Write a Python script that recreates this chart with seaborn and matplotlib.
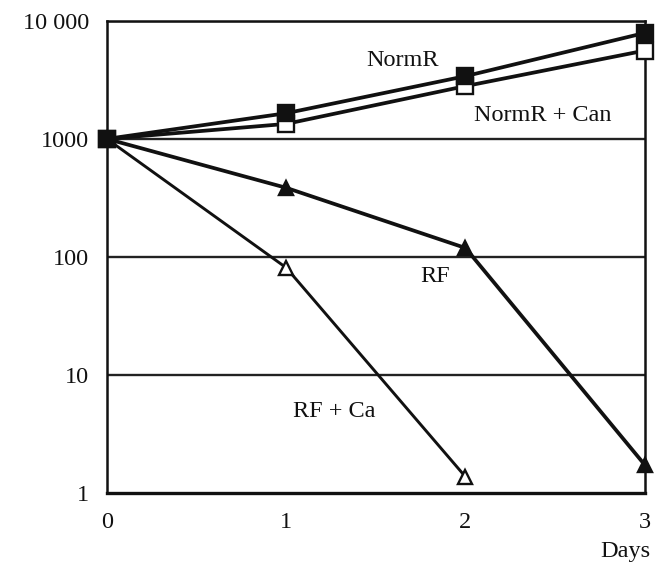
import numpy as np
import pandas as pd
import matplotlib
matplotlib.use("Agg")
import matplotlib.pyplot as plt
import seaborn as sns
from matplotlib.ticker import FixedLocator, NullLocator

# data
days = [0, 1, 2, 3]
normr = [1000, 1650, 3400, 7900]
normr_can = [1000, 1340, 2800, 5600]
rf = [1000, 385, 119, 1.73]
rf_ca_days = [0, 1, 2]
rf_ca = [1000, 81, 1.37]

y_ticks = [1, 10, 100, 1000, 10000]
y_labels = ["1", "10", "100", "1000", "10 000"]
x_ticks = [0, 1, 2, 3]

sns.set_theme(style="white")
plt.rcParams['font.family'] = ['Liberation Serif', 'DejaVu Serif']

fig = plt.figure(figsize=(6.64, 5.64), dpi=100)
ax = fig.add_axes([0.161, 0.126, 0.810, 0.837])

# horizontal grid lines
for yv in y_ticks[1:]:
    ax.axhline(yv, color="#222222", lw=1.7, zorder=1)

# open markers first so the filled square sits on top at day 0
series = [
    (rf_ca_days, rf_ca, "^", "white", 2.1, 10),
    (days, rf, "^", "#111111", 2.7, 10),
    (days, normr_can, "s", "white", 2.7, 11),
    (days, normr, "s", "#111111", 2.7, 11),
]
for xs, ys, mk, fc, lw, ms in series:
    df = pd.DataFrame({"day": xs, "val": ys})
    sns.lineplot(data=df, x="day", y="val", ax=ax, color="#111111", lw=lw,
                 marker=mk, markersize=ms, markerfacecolor=fc,
                 markeredgecolor="#111111", markeredgewidth=1.7,
                 clip_on=False, zorder=3)

ax.set_yscale("log")
ax.set_ylim(1, 10000)
ax.set_xlim(0, 3)
ax.yaxis.set_major_locator(FixedLocator(y_ticks))
ax.yaxis.set_minor_locator(NullLocator())
ax.set_yticklabels(y_labels)
ax.set_xticks(x_ticks)
ax.set_xticklabels([str(d) for d in x_ticks])
ax.set_xlabel("")
ax.set_ylabel("")

for s in ax.spines.values():
    s.set_color("#111111")
    s.set_linewidth(1.8)
ax.spines["bottom"].set_linewidth(2.4)

ax.tick_params(axis="both", direction="out", width=1.8,
               color="#111111", labelsize=17.5, labelcolor="#111111")
ax.tick_params(axis="x", length=7, pad=7)
ax.tick_params(axis="y", length=10, pad=3)

# curve labels
txt = dict(fontsize=17.5, color="#111111", ha="center", va="center")
ax.text(1.65, 4600, "NormR", **txt)
ax.text(2.43, 1570, "NormR + Can", **txt)
ax.text(1.83, 68, "RF", **txt)
ax.text(1.27, 4.9, "RF + Ca", **txt)
ax.text(1.011, -0.124, "Days", transform=ax.transAxes, fontsize=17.5,
        color="#111111", ha="right", va="center")

fig.savefig("out.png", dpi=100)
